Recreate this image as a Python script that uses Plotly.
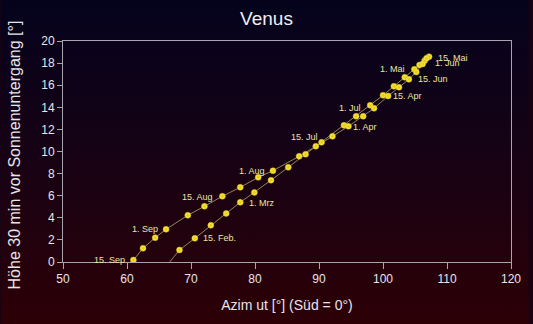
import base64
import plotly.graph_objects as go

# Venus evening apparition: azimuth (deg, South = 0) and altitude (deg)
# 30 min before sunset, sampled every few days from February to September.
azimuth = [65.0, 68.2, 70.6, 73.1, 75.5, 77.7, 79.9, 82.5, 85.2, 87.9, 90.4,
           93.9, 95.8, 98.0, 100.0, 101.7, 103.4, 104.9, 105.7, 106.5, 107.2,
           106.8, 106.2, 105.2, 104.05, 102.5, 100.8, 98.6, 96.9, 94.6, 92.1,
           89.5, 86.9, 82.8, 80.5, 77.7, 74.9, 72.1, 69.5, 66.1, 64.4, 62.5, 61.0]
altitude = [-1.2, 1.09, 2.14, 3.32, 4.40, 5.40, 6.30, 7.40, 8.57, 9.75, 10.83,
            12.37, 13.19, 14.18, 15.09, 15.90, 16.71, 17.44, 17.83, 18.22, 18.58,
            18.43, 17.92, 17.19, 16.53, 15.81, 15.02, 13.91, 13.19, 12.28, 11.37,
            10.47, 9.57, 8.26, 7.66, 6.76, 5.95, 5.04, 4.23, 2.96, 2.20, 1.24, 0.18]
dates = ["", "", "15. Feb.", "", "", "1. Mrz", "", "", "", "", "",
         "1. Apr", "", "", "15. Apr", "", "", "1. Mai", "", "", "15. Mai",
         "", "1. Jun", "", "15. Jun", "", "", "1. Jul", "", "", "15. Jul",
         "", "", "1. Aug", "", "", "15. Aug", "", "", "1. Sep", "", "", "15. Sep"]

x_ticks = [50, 60, 70, 80, 90, 100, 110, 120]
y_ticks = [0, 2, 4, 6, 8, 10, 12, 14, 16, 18, 20]

# label placement next to its point: (x offset px, y offset px);
# positive x offset puts the label right of the point, negative left of it
label_place = {
    "15. Feb.": (7, 0), "1. Mrz": (8, -1),
    "1. Apr": (8, -2), "15. Apr": (9, -1),
    "1. Mai": (-8, 0), "15. Mai": (8, -1),
    "1. Jun": (11, 1), "15. Jun": (8, 0),
    "1. Jul": (-12, 0), "15. Jul": (-13, -1),
    "1. Aug": (-7, 0), "15. Aug": (-8, -1),
    "1. Sep": (-7, 0), "15. Sep": (-7, 0),
}

FONT = "Arial"
W, H = 533, 324
L, R, T, B = 63, 18, 41, 62
pw, ph = W - L - R, H - T - B

# vertical background gradient (navy to dark red) across the whole canvas
svg = (
    f'<svg xmlns="http://www.w3.org/2000/svg" width="{W}" height="{H}" '
    f'viewBox="0 0 {W} {H}" preserveAspectRatio="none">'
    '<defs><linearGradient id="g" x1="0" y1="0" x2="0" y2="1">'
    '<stop offset="0" stop-color="#05031d"/>'
    '<stop offset="0.5" stop-color="#170214"/>'
    '<stop offset="1" stop-color="#2d0006"/>'
    '</linearGradient></defs>'
    f'<rect width="{W}" height="{H}" fill="url(#g)"/></svg>'
)
bg_src = "data:image/svg+xml;base64," + base64.b64encode(svg.encode()).decode()

fig = go.Figure()
fig.add_trace(go.Scatter(
    x=azimuth, y=altitude, mode="lines+markers",
    line=dict(color="#94845c", width=1),
    marker=dict(size=6, color="#fff45c",
                gradient=dict(type="radial", color="#e2c200"),
                line=dict(color="#c2a400", width=0.5)),
    hoverinfo="skip", showlegend=False,
))

annotations = []
for xv, yv, txt in zip(azimuth, altitude, dates):
    if not txt:
        continue
    dx, dy = label_place[txt]
    annotations.append(dict(
        x=xv, y=yv, text=txt, showarrow=False,
        xanchor="left" if dx > 0 else "right",
        yanchor="middle", xshift=dx, yshift=dy, borderpad=0,
        font=dict(family=FONT, size=9, color="#ece6a4"),
    ))

# y-axis title as a rotated annotation
annotations.append(dict(
    text="Höhe 30 min vor Sonnenuntergang [°]", textangle=-90,
    x=(14 - L) / pw, y=1 - (155 - T) / ph, xref="paper", yref="paper",
    xanchor="center", yanchor="middle", showarrow=False,
    font=dict(family=FONT, size=16, color="#e6e6ea"),
))

axis_style = dict(
    showline=True, mirror=True, linecolor="#a9a5ae", linewidth=1,
    ticks="outside", tickcolor="#a9a5ae", tickwidth=1,
    showgrid=False, zeroline=False,
    tickfont=dict(family=FONT, size=12, color="#e6e6ea"),
)

fig.update_layout(
    width=W, height=H, autosize=False,
    margin=dict(l=L, r=R, t=T, b=B, pad=0),
    paper_bgcolor="#170214", plot_bgcolor="rgba(0,0,0,0)",
    images=[dict(source=bg_src, xref="paper", yref="paper",
                 x=-L / pw, y=1 + T / ph, sizex=W / pw, sizey=H / ph,
                 xanchor="left", yanchor="top", sizing="stretch",
                 layer="below")],
    title=dict(text="Venus", x=0.5, xref="container", xanchor="center",
               y=1 - 18 / H, yref="container", yanchor="middle",
               font=dict(family=FONT, size=19, color="#eeeef6")),
    xaxis=dict(range=[50, 120], tickvals=x_ticks, ticklen=6,
               title=dict(text="Azim ut [°] (Süd = 0°)", standoff=14,
                          font=dict(family=FONT, size=14, color="#e6e6ea")),
               **axis_style),
    yaxis=dict(range=[0, 20], tickvals=y_ticks, ticklen=5, **axis_style),
    annotations=annotations,
)

fig.write_html("out.html")
